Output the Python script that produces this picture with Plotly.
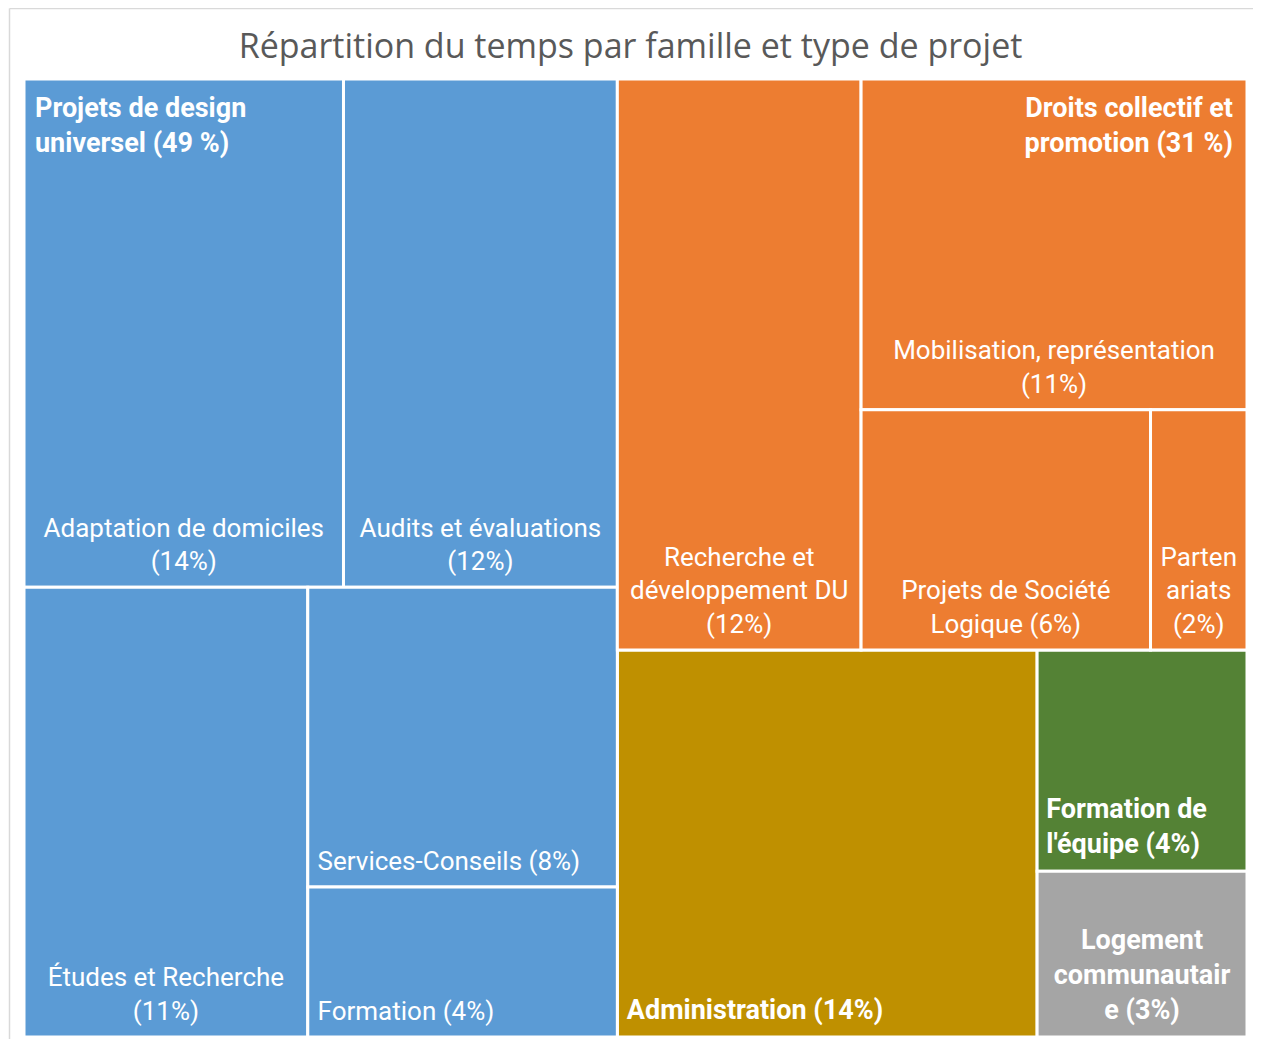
import plotly.graph_objects as go

# ---- data ----
ids = ["root", "design", "droits",
       "adaptation", "audits", "etudes", "services", "formation",
       "rd", "mobilisation", "societe", "partenariats",
       "admin", "form_equipe", "logement"]
parents = ["", "root", "root",
           "design", "design", "design", "design", "design",
           "droits", "droits", "droits", "droits",
           "root", "root", "root"]
leaf_values = {
    "adaptation": 14, "audits": 12, "etudes": 11, "services": 8, "formation": 4,
    "rd": 12, "mobilisation": 11, "societe": 6, "partenariats": 2,
    "admin": 14, "form_equipe": 4, "logement": 3,
}
labels_text = {
    "adaptation": "Adaptation de domiciles<br>(14%)",
    "audits": "Audits et évaluations<br>(12%)",
    "etudes": "Études et Recherche<br>(11%)",
    "services": "Services-Conseils (8%)",
    "formation": "Formation (4%)",
    "rd": "Recherche et<br>développement DU<br>(12%)",
    "mobilisation": "Mobilisation, représentation<br>(11%)",
    "societe": "Projets de Société<br>Logique (6%)",
    "partenariats": "Parten<br>ariats<br>(2%)",
    "admin": "<b>Administration (14%)</b>",
    "form_equipe": "<b>Formation de<br>l'équipe (4%)</b>",
    "logement": "<b>Logement<br>communautair<br>e (3%)</b>",
}
family_text = {
    "design": "<b>Projets de design<br>universel (49 %)</b>",
    "droits": "<b>Droits collectif et<br>promotion (31 %)</b>",
}
colors = {
    "design": "#5B9BD5", "droits": "#ED7D31",
    "admin": "#BF9000", "form_equipe": "#548235", "logement": "#A5A5A5",
}
# labels drawn left-aligned at the bottom of their tile (others are centred)
left_aligned = ["services", "formation", "admin", "form_equipe"]
bold_ids = ["admin", "form_equipe", "logement"]

# ---- compute totals ----
def total(i):
    if i in leaf_values:
        return leaf_values[i]
    return sum(total(c) for c, p in zip(ids, parents) if p == i)

values = [total(i) for i in ids]

def family(i):
    while i not in colors and i != "root":
        i = parents[ids.index(i)]
    return i

node_colors = [colors.get(family(i), "rgba(0,0,0,0)") for i in ids]

# top-level only hierarchy (same top-level tiling) for family headers
top_ids = [i for i, p in zip(ids, parents) if p in ("", "root")]
top_parents = [parents[ids.index(i)] for i in top_ids]
top_values = [values[ids.index(i)] for i in top_ids]

FONT = "Roboto"
REG = 26
BOLD = 27
CLEAR = "rgba(0,0,0,0)"
NOPAD = dict(t=0, l=0, r=0, b=0)

# plot-area geometry (px) used to offset label layers a few pixels
W, H = 1229, 966          # plot area
TW, TH = 1223, 958        # tiles area

def sizes(id_list):
    return [BOLD if i in bold_ids else REG for i in id_list]

def base(id_list, par, vals, dx, dy):
    return dict(ids=id_list, labels=id_list, parents=par, values=vals,
                branchvalues="total", sort=True,
                tiling=dict(packing="binary", pad=0),
                pathbar=dict(visible=False), textinfo="text",
                hoverinfo="skip", domain=dict(x=dx, y=dy))

def label_layer(id_list, par, vals, txt, pos, dx, dy, size):
    return go.Treemap(
        **base(id_list, par, vals, dx, dy),
        text=txt, textposition=pos,
        textfont=dict(family=FONT, size=size, color="white"),
        insidetextfont=dict(family=FONT, size=size, color="white"),
        marker=dict(colors=[CLEAR] * len(id_list), line=dict(width=0), pad=NOPAD),
    )

fig = go.Figure()
# main coloured treemap (tiles only)
fig.add_trace(go.Treemap(
    **base(ids, parents, values, [0, TW / W], [0, TH / H]),
    text=[""] * len(ids), textposition="bottom center",
    marker=dict(colors=node_colors, line=dict(color="white", width=3), pad=NOPAD),
))
# centred labels (raised slightly)
fig.add_trace(label_layer(
    ids, parents, values,
    [labels_text[i] if (i in labels_text and i not in left_aligned) else "" for i in ids],
    "bottom center", [0, TW / W], [8 / H, 1], sizes(ids)))
# left-aligned labels (inset slightly)
fig.add_trace(label_layer(
    ids, parents, values,
    [labels_text[i] if i in left_aligned else "" for i in ids],
    "bottom left", [7 / W, 1], [8 / H, 1], sizes(ids)))
# family headers
fig.add_trace(label_layer(
    top_ids, top_parents, top_values,
    [family_text["design"] if i == "design" else "" for i in top_ids],
    "top left", [8 / W, TW / W], [0, (TH - 10) / H], BOLD))
fig.add_trace(label_layer(
    top_ids, top_parents, top_values,
    [family_text["droits"] if i == "droits" else "" for i in top_ids],
    "top right", [0, (TW - 11) / W], [0, (TH - 10) / H], BOLD))

ytop = 1 + (63 - 0.5) / H
xleft = (1.5 - 16) / W
fig.update_layout(
    width=1245, height=1031,
    margin=dict(l=16, r=0, t=63, b=2),
    paper_bgcolor="white", plot_bgcolor="white",
    title=dict(text="Répartition du temps par famille et type de projet",
               x=0.5, xanchor="center", y=1 - 38 / 1031, yanchor="middle",
               font=dict(family="Open Sans", size=34, color="#595959")),
    shapes=[
        dict(type="line", xref="paper", yref="paper",
             x0=xleft, x1=1.2, y0=ytop, y1=ytop,
             line=dict(color="#D9D9D9", width=1.5)),
        dict(type="line", xref="paper", yref="paper",
             x0=xleft, x1=xleft, y0=-0.2, y1=ytop,
             line=dict(color="#D9D9D9", width=1.5)),
    ],
)

fig.write_html("out.html")
